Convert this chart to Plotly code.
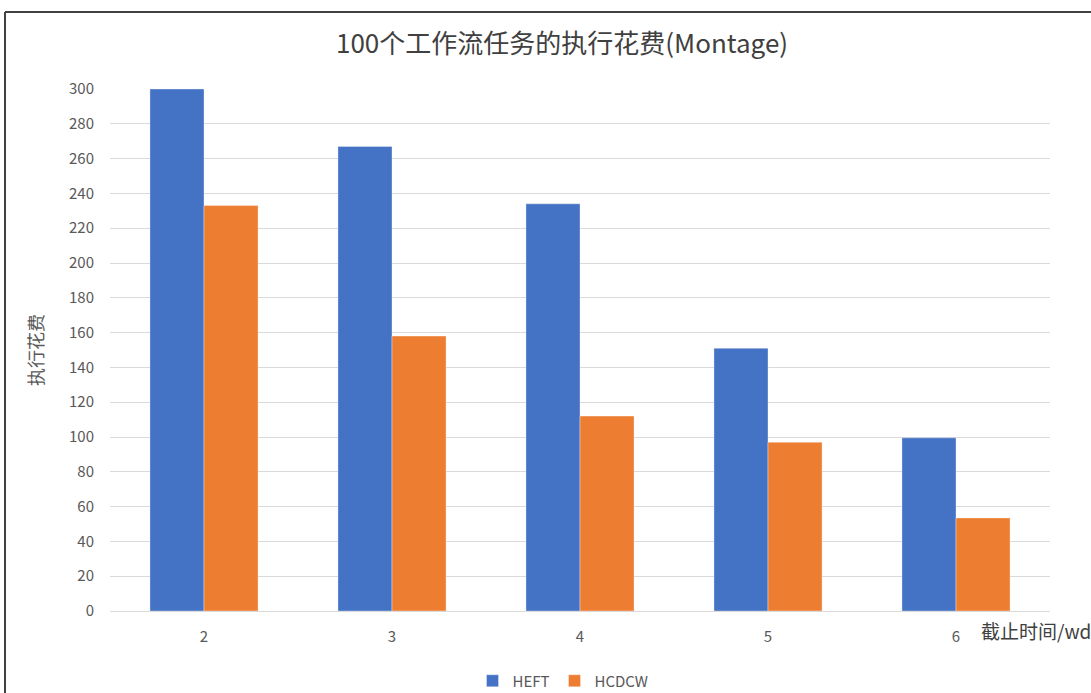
import plotly.graph_objects as go

categories = ["2", "3", "4", "5", "6"]
heft = [300, 267, 234, 151, 99.5]
hcdcw = [233, 158, 112, 97, 53.5]
y_ticks = list(range(0, 301, 20))

FONT = "Noto Sans CJK SC"
L, R, T, B = 110, 41, 89, 82
W, H = 1091, 693
pw, ph = W - L - R, H - T - B

def px_x(p):
    return (p - L) / pw

def px_y(p):
    return (H - B - p) / ph

fig = go.Figure()
fig.add_trace(go.Bar(name="HEFT", x=categories, y=heft,
                     marker=dict(color="#4472C4", line=dict(color="rgba(255,255,255,0.35)", width=1))))
fig.add_trace(go.Bar(name="HCDCW", x=categories, y=hcdcw,
                     marker=dict(color="#ED7D31", line=dict(color="rgba(255,255,255,0.35)", width=1))))

fig.update_layout(
    width=W, height=H,
    margin=dict(l=L, r=R, t=T, b=B, autoexpand=False),
    paper_bgcolor="white", plot_bgcolor="white",
    barmode="group", bargap=0.425, bargroupgap=0,
    font=dict(family=FONT, color="#595959", size=15),
    showlegend=True,
    legend=dict(orientation="h", x=px_x(563), xanchor="center", y=px_y(681), yanchor="middle",
                font=dict(size=15, color="#595959"), traceorder="normal", itemwidth=30,
                tracegroupgap=0),
    xaxis=dict(showgrid=False, showline=True, linecolor="#d9d9d9", linewidth=1,
               ticks="outside", ticklen=12, tickcolor="rgba(0,0,0,0)",
               tickfont=dict(size=15, color="#595959")),
    yaxis=dict(range=[0, 300], tickvals=y_ticks, showgrid=True, gridcolor="#d9d9d9", gridwidth=1,
               zeroline=False, showline=False, ticks="outside", ticklen=12, tickcolor="rgba(0,0,0,0)",
               tickfont=dict(size=15, color="#595959"),
               title=dict(text="执行花费", font=dict(size=18, color="#595959"), standoff=20)),
)

fig.add_annotation(text="100个工作流任务的执行花费(Montage)", xref="paper", yref="paper",
                   x=px_x(562), y=px_y(42), xanchor="center", yanchor="middle", showarrow=False,
                   font=dict(size=26, color="#404040", family=FONT))
fig.add_annotation(text="截止时间/wd", xref="paper", yref="paper",
                   x=px_x(979), y=px_y(630), xanchor="left", yanchor="middle", showarrow=False,
                   font=dict(size=19, color="#404040", family=FONT))

# chart frame (left and top edges visible)
fig.add_shape(type="line", xref="paper", yref="paper", x0=px_x(5), x1=px_x(5), y0=px_y(700), y1=px_y(12),
              line=dict(color="#404040", width=2))
fig.add_shape(type="line", xref="paper", yref="paper", x0=px_x(5), x1=px_x(1100), y0=px_y(12), y1=px_y(12),
              line=dict(color="#404040", width=2))

fig.write_html("out.html")
